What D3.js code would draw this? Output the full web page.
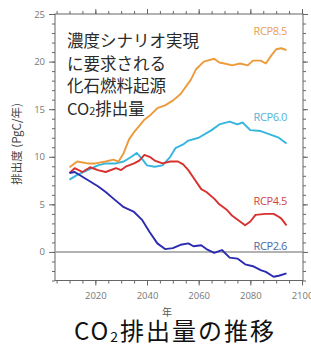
<!DOCTYPE html>
<html>
<head>
<meta charset="utf-8">
<script src="https://cdn.jsdelivr.net/npm/d3@7"></script>
<style>
  body { margin: 0; background: #fff; }
  svg { display: block; }
</style>
</head>
<body>
<svg id="chart" width="311" height="346"></svg>
<script>
// values, [year, PgC/yr]
var rcp85 = [[2010, 8.9], [2013, 9.5], [2017, 9.3], [2020, 9.3], [2024, 9.5], [2027, 9.7], [2029, 9.5],
  [2031, 10.4], [2033, 11.8], [2035, 12.6], [2039, 13.9], [2041, 14.3], [2044, 15.1], [2047, 15.4],
  [2050, 15.9], [2053, 16.6], [2057, 18.1], [2059, 19.2], [2062, 20.0], [2066, 20.3], [2068, 19.9],
  [2070, 19.8], [2073, 19.6], [2076, 19.8], [2079, 19.6], [2081, 20.1], [2084, 20.1], [2086, 19.8],
  [2088, 20.6], [2090, 21.3], [2092, 21.4], [2094, 21.2]];
var rcp60 = [[2010, 7.6], [2013, 8.1], [2017, 8.6], [2021, 9.1], [2024, 9.3], [2028, 9.3], [2031, 9.5],
  [2034, 10.0], [2036, 10.4], [2038, 9.8], [2040, 9.1], [2043, 8.95], [2046, 9.1], [2049, 10.0],
  [2051, 10.9], [2054, 11.3], [2056, 11.7], [2060, 12.0], [2065, 12.8], [2068, 13.4], [2072, 13.7],
  [2075, 13.4], [2077, 13.6], [2080, 12.8], [2084, 12.7], [2087, 12.4], [2091, 12.0], [2094, 11.4]];
var rcp45 = [[2010, 8.3], [2012, 8.8], [2015, 8.4], [2018, 8.9], [2021, 8.6], [2024, 8.4], [2028, 8.8],
  [2030, 8.6], [2032, 9.0], [2035, 9.3], [2037, 9.6], [2039, 10.2], [2041, 10.0], [2043, 9.6],
  [2046, 9.3], [2049, 9.5], [2052, 9.5], [2054, 9.2], [2056, 8.6], [2058, 7.8], [2061, 6.6],
  [2063, 6.3], [2066, 5.6], [2068, 5.0], [2071, 4.4], [2073, 3.8], [2076, 3.2], [2078, 2.8],
  [2080, 3.2], [2082, 3.9], [2086, 4.0], [2089, 4.0], [2091, 3.7], [2092, 3.5], [2094, 2.8]];
var rcp26 = [[2010, 8.3], [2012, 8.4], [2015, 7.9], [2018, 7.4], [2021, 6.9], [2024, 6.3], [2027, 5.6],
  [2031, 4.7], [2035, 4.2], [2038, 3.4], [2041, 2.1], [2044, 0.9], [2047, 0.3], [2050, 0.4],
  [2053, 0.75], [2056, 0.9], [2058, 0.6], [2061, 0.7], [2063, 0.3], [2066, -0.1], [2069, 0.2],
  [2072, -0.6], [2075, -0.7], [2078, -1.3], [2081, -1.5], [2084, -1.9], [2086, -2.1], [2089, -2.6],
  [2091, -2.5], [2094, -2.25]];

var seriesNames = ['RCP8.5', 'RCP6.0', 'RCP4.5', 'RCP2.6'];
var xTicks = [2020, 2040, 2060, 2080, 2100];
var yTicks = [0, 5, 10, 15, 20, 25];
var noteLines = ['濃度シナリオ実現', 'に要求される', '化石燃料起源'];

var svg = d3.select('#chart');
// plot frame edges (note: "top" is reserved on window, so prefix)
var pLeft = 55, pRight = 303, pTop = 14, pBottom = 280.5;

var x = d3.scaleLinear().domain([2004, 2100]).range([54, 302]);
var y = d3.scaleLinear().domain([-3, 25]).range([pBottom, pTop]);

var axisColor = '#666';
var fontJP = '"Noto Sans CJK JP", "Noto Sans", sans-serif';

function styleAxis(g) {
  g.select('.domain').remove();
  g.selectAll('line').attr('stroke', axisColor).attr('stroke-width', 1);
  g.selectAll('text').attr('fill', '#777').attr('font-size', 9.5)
    .attr('font-family', '"Open Sans", sans-serif');
}

var xMinor = d3.range(2005, 2101, 5);
var yMinor = d3.range(-3, 26, 1);

// minor ticks, all four sides
svg.append('g').attr('transform', 'translate(0,' + pBottom + ')')
  .call(d3.axisBottom(x).tickValues(xMinor).tickSize(3).tickFormat('')).call(styleAxis);
svg.append('g').attr('transform', 'translate(0,' + pTop + ')')
  .call(d3.axisTop(x).tickValues(xMinor).tickSize(3).tickFormat('')).call(styleAxis);
svg.append('g').attr('transform', 'translate(' + pLeft + ',0)')
  .call(d3.axisLeft(y).tickValues(yMinor).tickSize(3).tickFormat('')).call(styleAxis);
svg.append('g').attr('transform', 'translate(' + pRight + ',0)')
  .call(d3.axisRight(y).tickValues(yMinor).tickSize(3).tickFormat('')).call(styleAxis);

// major ticks
svg.append('g').attr('transform', 'translate(0,' + pBottom + ')')
  .call(d3.axisBottom(x).tickValues(xTicks).tickSize(5).tickPadding(7).tickFormat(d3.format('d')))
  .call(styleAxis);
svg.append('g').attr('transform', 'translate(0,' + pTop + ')')
  .call(d3.axisTop(x).tickValues(xTicks).tickSize(5).tickFormat('')).call(styleAxis);
svg.append('g').attr('transform', 'translate(' + pLeft + ',0)')
  .call(d3.axisLeft(y).tickValues(yTicks).tickSize(6).tickPadding(4)).call(styleAxis);
svg.append('g').attr('transform', 'translate(' + pRight + ',0)')
  .call(d3.axisRight(y).tickValues(yTicks).tickSize(5).tickFormat('')).call(styleAxis);

// frame
svg.append('rect').attr('x', pLeft).attr('y', pTop)
  .attr('width', pRight - pLeft).attr('height', pBottom - pTop)
  .attr('fill', 'none').attr('stroke', axisColor).attr('stroke-width', 1);

// zero line
svg.append('line').attr('x1', pLeft).attr('x2', pRight)
  .attr('y1', y(0)).attr('y2', y(0))
  .attr('stroke', '#999').attr('stroke-width', 1.6);

var line = d3.line().x(function(d) { return x(d[0]); }).y(function(d) { return y(d[1]); });

var series = [rcp85, rcp60, rcp45, rcp26];
var lineColors = ['#ec9a3a', '#35b6de', '#d8302e', '#2b2bb0'];
var labelColors = ['#e89c58', '#55b2d6', '#cf4444', '#4a68a0'];
var labelY = [35, 121, 205, 250];

// draw RCP2.6 last so it sits on top at the start, like the picture
[1, 0, 2, 3].forEach(function(i) {
  svg.append('path').datum(series[i])
    .attr('d', line)
    .attr('fill', 'none')
    .attr('stroke', lineColors[i])
    .attr('stroke-width', 1.9)
    .attr('stroke-linejoin', 'round');
});

svg.selectAll('.rcp-label').data(seriesNames).enter()
  .append('text').attr('class', 'rcp-label')
  .attr('x', 287).attr('y', function(d, i) { return labelY[i]; })
  .attr('text-anchor', 'end')
  .attr('font-size', 11).attr('font-family', '"Open Sans", sans-serif')
  .attr('letter-spacing', -0.4)
  .attr('fill', function(d, i) { return labelColors[i]; })
  .text(function(d) { return d; });

// annotation
var note = svg.append('g').attr('font-family', fontJP).attr('font-size', 16.5).attr('fill', '#2a2a2a');
note.selectAll('text').data(noteLines).enter().append('text')
  .attr('x', 67).attr('y', function(d, i) { return 47 + i * 22.5; })
  .text(function(d) { return d; });
var co2 = note.append('text').attr('x', 67).attr('y', 114.5);
co2.append('tspan').text('CO');
co2.append('tspan').attr('font-size', 11).text('2');
co2.append('tspan').text('排出量');

// axis titles
svg.append('text')
  .attr('transform', 'translate(21,144) rotate(-90)')
  .attr('text-anchor', 'middle')
  .attr('font-family', fontJP).attr('font-size', 11.5).attr('fill', '#444')
  .text('排出度 (PgC/年)');

svg.append('text').attr('x', 167).attr('y', 316)
  .attr('text-anchor', 'middle')
  .attr('font-family', fontJP).attr('font-size', 10).attr('fill', '#555')
  .text('年');

var title = svg.append('text').attr('x', 175).attr('y', 340)
  .attr('text-anchor', 'middle')
  .attr('font-family', fontJP).attr('font-size', 24).attr('letter-spacing', 2)
  .attr('fill', '#111');
title.append('tspan').text('CO');
title.append('tspan').attr('font-size', 14).attr('dy', 2).text('2');
title.append('tspan').attr('dy', -2).text('排出量の推移');
</script>
</body>
</html>
